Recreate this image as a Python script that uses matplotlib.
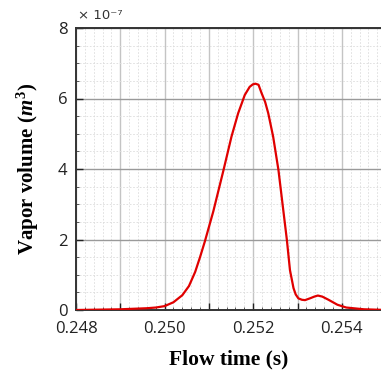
import numpy as np
import matplotlib
matplotlib.use('Agg')
import matplotlib.pyplot as plt
from matplotlib.ticker import MultipleLocator, FixedLocator, FixedFormatter

# flow time (s) and vapor volume (x 1e-7 m^3)
flow_time = [0.2480, 0.2485, 0.2490, 0.2494, 0.2496, 0.2498, 0.2500, 0.25020,
             0.25040, 0.25055, 0.25069, 0.25080, 0.25091, 0.25110, 0.25133,
             0.25151, 0.25166, 0.25181, 0.25192, 0.25199, 0.25205, 0.25212,
             0.25219, 0.25227, 0.25234, 0.25245, 0.25257, 0.25266, 0.25276,
             0.25283, 0.25291, 0.25296, 0.25302, 0.25310, 0.25317, 0.25328,
             0.25338, 0.25346, 0.25356, 0.25370, 0.25390, 0.25410, 0.25450,
             0.25490]
vapor_volume = [0.00, 0.01, 0.02, 0.04, 0.05, 0.07, 0.11, 0.22,
                0.42, 0.68, 1.08, 1.50, 1.95, 2.80, 3.97,
                4.92, 5.58, 6.10, 6.33, 6.40, 6.42, 6.39,
                6.15, 5.90, 5.58, 4.92, 3.97, 3.03, 1.99,
                1.13, 0.62, 0.44, 0.33, 0.29, 0.28, 0.33,
                0.38, 0.41, 0.38, 0.29, 0.15, 0.07, 0.02,
                0.005]

xticks = [0.248, 0.249, 0.250, 0.251, 0.252, 0.253, 0.254]
xtick_labels = ['0.248', '', '0.250', '', '0.252', '', '0.254']
yticks = [0, 2, 4, 6, 8]

plt.rcParams['mathtext.fontset'] = 'custom'
plt.rcParams['mathtext.rm'] = 'Liberation Serif:bold'
plt.rcParams['mathtext.it'] = 'Liberation Serif:italic:bold'

fig = plt.figure(figsize=(3.81, 3.76), dpi=100)
W, H = 381, 376
ax = fig.add_axes([76 / W, 66 / H, 305 / W, 282 / H])

ax.plot(flow_time, vapor_volume, color='#e00000', lw=1.6, zorder=3,
        solid_joinstyle='round')

ax.set_xlim(0.248, 0.248 + 305 / 44.3 * 0.001)
ax.set_ylim(0, 8)

ax.xaxis.set_major_locator(FixedLocator(xticks))
ax.xaxis.set_major_formatter(FixedFormatter(xtick_labels))
ax.xaxis.set_minor_locator(MultipleLocator(0.0002))
ax.set_yticks(yticks)
ax.yaxis.set_minor_locator(MultipleLocator(0.5))

ax.tick_params(which='major', direction='in', length=5, width=1,
               labelsize=12, colors='#222222')
ax.tick_params(axis='x', which='major', pad=8)
ax.tick_params(axis='y', which='major', pad=6)
ax.tick_params(which='minor', direction='in', length=2.5, width=0.7,
               colors='#555555')
for lab in ax.get_xticklabels() + ax.get_yticklabels():
    lab.set_family('Open Sans')
    lab.set_color('#222222')

ax.grid(which='major', axis='x', color='#c4c4c4', lw=1.0)
ax.grid(which='major', axis='y', color='#9a9a9a', lw=1.0)
ax.grid(which='minor', color='#dcdcdc', lw=0.6, ls=(0, (2, 2)))
ax.set_axisbelow(True)

for side in ['left', 'bottom', 'top']:
    ax.spines[side].set_color('#333333')
    ax.spines[side].set_linewidth(1.4)
ax.spines['right'].set_visible(False)

ax.set_xlabel('Flow time (s)', family='Liberation Serif', weight='bold',
              fontsize=15.5, labelpad=9)
ax.set_ylabel(r'Vapor volume $(m^3)$', family='Liberation Serif',
              weight='bold', fontsize=15, labelpad=12)

ax.text(0.005, 1.02, '× 10⁻⁷', transform=ax.transAxes, family='DejaVu Sans',
        fontsize=9.5, color='#333333', ha='left', va='bottom')

fig.savefig('out.png', dpi=100)
